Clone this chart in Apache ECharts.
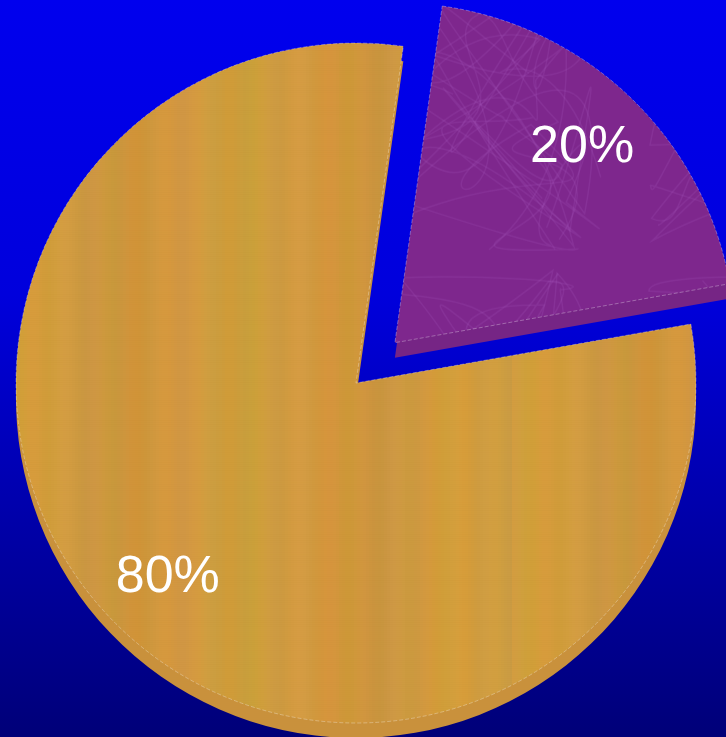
<!DOCTYPE html>
<html>
<head>
<meta charset="utf-8">
<script src="https://cdn.jsdelivr.net/npm/echarts@6/dist/echarts.min.js"></script>
<style>
html,body{margin:0;padding:0;}
#chart{width:726px;height:737px;}
</style>
</head>
<body>
<div id="chart"></div>
<script>
// Data
var categories = ['B', 'A'];
var values = [20, 80];
var labels = ['20%', '80%'];

// Textures (decorative only)
function woodPattern() {
  var c = document.createElement('canvas');
  c.width = 512; c.height = 512;
  var g = c.getContext('2d');
  g.fillStyle = '#D09A3E';
  g.fillRect(0, 0, 512, 512);
  for (var x = 0; x < 512; x += 3) {
    var r = 208 + 4 * Math.sin(x * 0.045) + 3 * Math.sin(x * 0.19 + 2);
    var gg = 154 + 4 * Math.sin(x * 0.028 + 1) + 2 * Math.sin(x * 0.13);
    var b = 62 + 4 * Math.sin(x * 0.06 + 3) + 2 * Math.sin(x * 0.21 + 1);
    g.fillStyle = 'rgb(' + Math.round(r) + ',' + Math.round(gg) + ',' + Math.round(b) + ')';
    g.fillRect(x, 0, 3, 512);
  }
  for (var y = 0; y < 512; y += 2) {
    var a = 0.03 + 0.02 * Math.sin(y * 0.3);
    g.fillStyle = 'rgba(180,120,40,' + a.toFixed(3) + ')';
    g.fillRect(0, y, 512, 1);
  }
  return c;
}
function scribblePattern() {
  var c = document.createElement('canvas');
  c.width = 300; c.height = 300;
  var g = c.getContext('2d');
  g.fillStyle = '#7E278D';
  g.fillRect(0, 0, 300, 300);
  g.strokeStyle = 'rgba(170,90,190,0.22)';
  g.lineWidth = 1.5;
  for (var i = 0; i < 8; i++) {
    g.beginPath();
    var x0 = 150 + 140 * Math.sin(i * 1.7), y0 = 150 + 140 * Math.cos(i * 2.3);
    g.moveTo(x0, y0);
    for (var k = 1; k < 5; k++) {
      var t = i * 6 + k;
      g.bezierCurveTo(
        150 + 150 * Math.sin(t * 0.9), 150 + 150 * Math.cos(t * 1.3),
        150 + 150 * Math.sin(t * 1.7 + 1), 150 + 150 * Math.cos(t * 0.7 + 2),
        150 + 140 * Math.sin(t * 2.1 + 0.5), 150 + 140 * Math.cos(t * 1.1 + 1.5));
    }
    g.stroke();
  }
  return c;
}

var wood = woodPattern();
var scrib = scribblePattern();
var topColors = [{image: scrib, repeat: 'repeat'}, {image: wood, repeat: 'repeat'}];
var sideColors = ['#762585', '#C9913C'];
var labelPads = [[14, 2, 0, 0], [0, 0, 2, 0]];

var cx = 356, cy = 383, R = 340, depth = 15, offset = 56, startAngle = 82;

function makeData(colors, opts) {
  return values.map(function (v, i) {
    var d = {name: categories[i], value: v, selected: i === 0,
      itemStyle: {color: colors[i]}};
    if (opts) Object.assign(d.itemStyle, opts);
    return d;
  });
}

var chart = echarts.init(document.getElementById('chart'));
chart.setOption({
  backgroundColor: {
    type: 'linear', x: 0, y: 0, x2: 0, y2: 1,
    colorStops: [
      {offset: 0, color: '#0000EE'},
      {offset: 0.4, color: '#0000DC'},
      {offset: 1, color: '#000078'}
    ]
  },
  animation: false,
  series: [
    {
      type: 'pie', silent: true, z: 1,
      center: [cx, cy + depth], radius: R,
      startAngle: startAngle, clockwise: true,
      selectedMode: 'single', selectedOffset: offset,
      label: {show: false}, labelLine: {show: false},
      emphasis: {disabled: true},
      data: makeData(sideColors)
    },
    {
      type: 'pie', silent: true, z: 2,
      center: [cx, cy], radius: R,
      startAngle: startAngle, clockwise: true,
      selectedMode: 'single', selectedOffset: offset,
      label: {show: false}, labelLine: {show: false},
      emphasis: {disabled: true},
      data: makeData(topColors, {borderColor: 'rgba(255,255,255,0.3)', borderWidth: 1, borderType: 'dashed'})
    },
    {
      type: 'pie', silent: true, z: 3,
      center: [cx, cy], radius: 536,
      startAngle: startAngle, clockwise: true,
      selectedMode: 'single', selectedOffset: offset,
      avoidLabelOverlap: false,
      itemStyle: {color: 'rgba(0,0,0,0)'},
      label: {
        show: true, position: 'inside',
        formatter: function (p) { return labels[p.dataIndex]; },
        color: '#FFFFFF', fontSize: 52,
        fontFamily: 'Liberation Sans, Arial, sans-serif'
      },
      labelLine: {show: false},
      emphasis: {disabled: true},
      data: values.map(function (v, i) {
        return {name: categories[i], value: v, selected: i === 0,
          itemStyle: {color: 'rgba(0,0,0,0)'},
          label: {padding: labelPads[i]}};
      })
    }
  ]
});
</script>
</body>
</html>
